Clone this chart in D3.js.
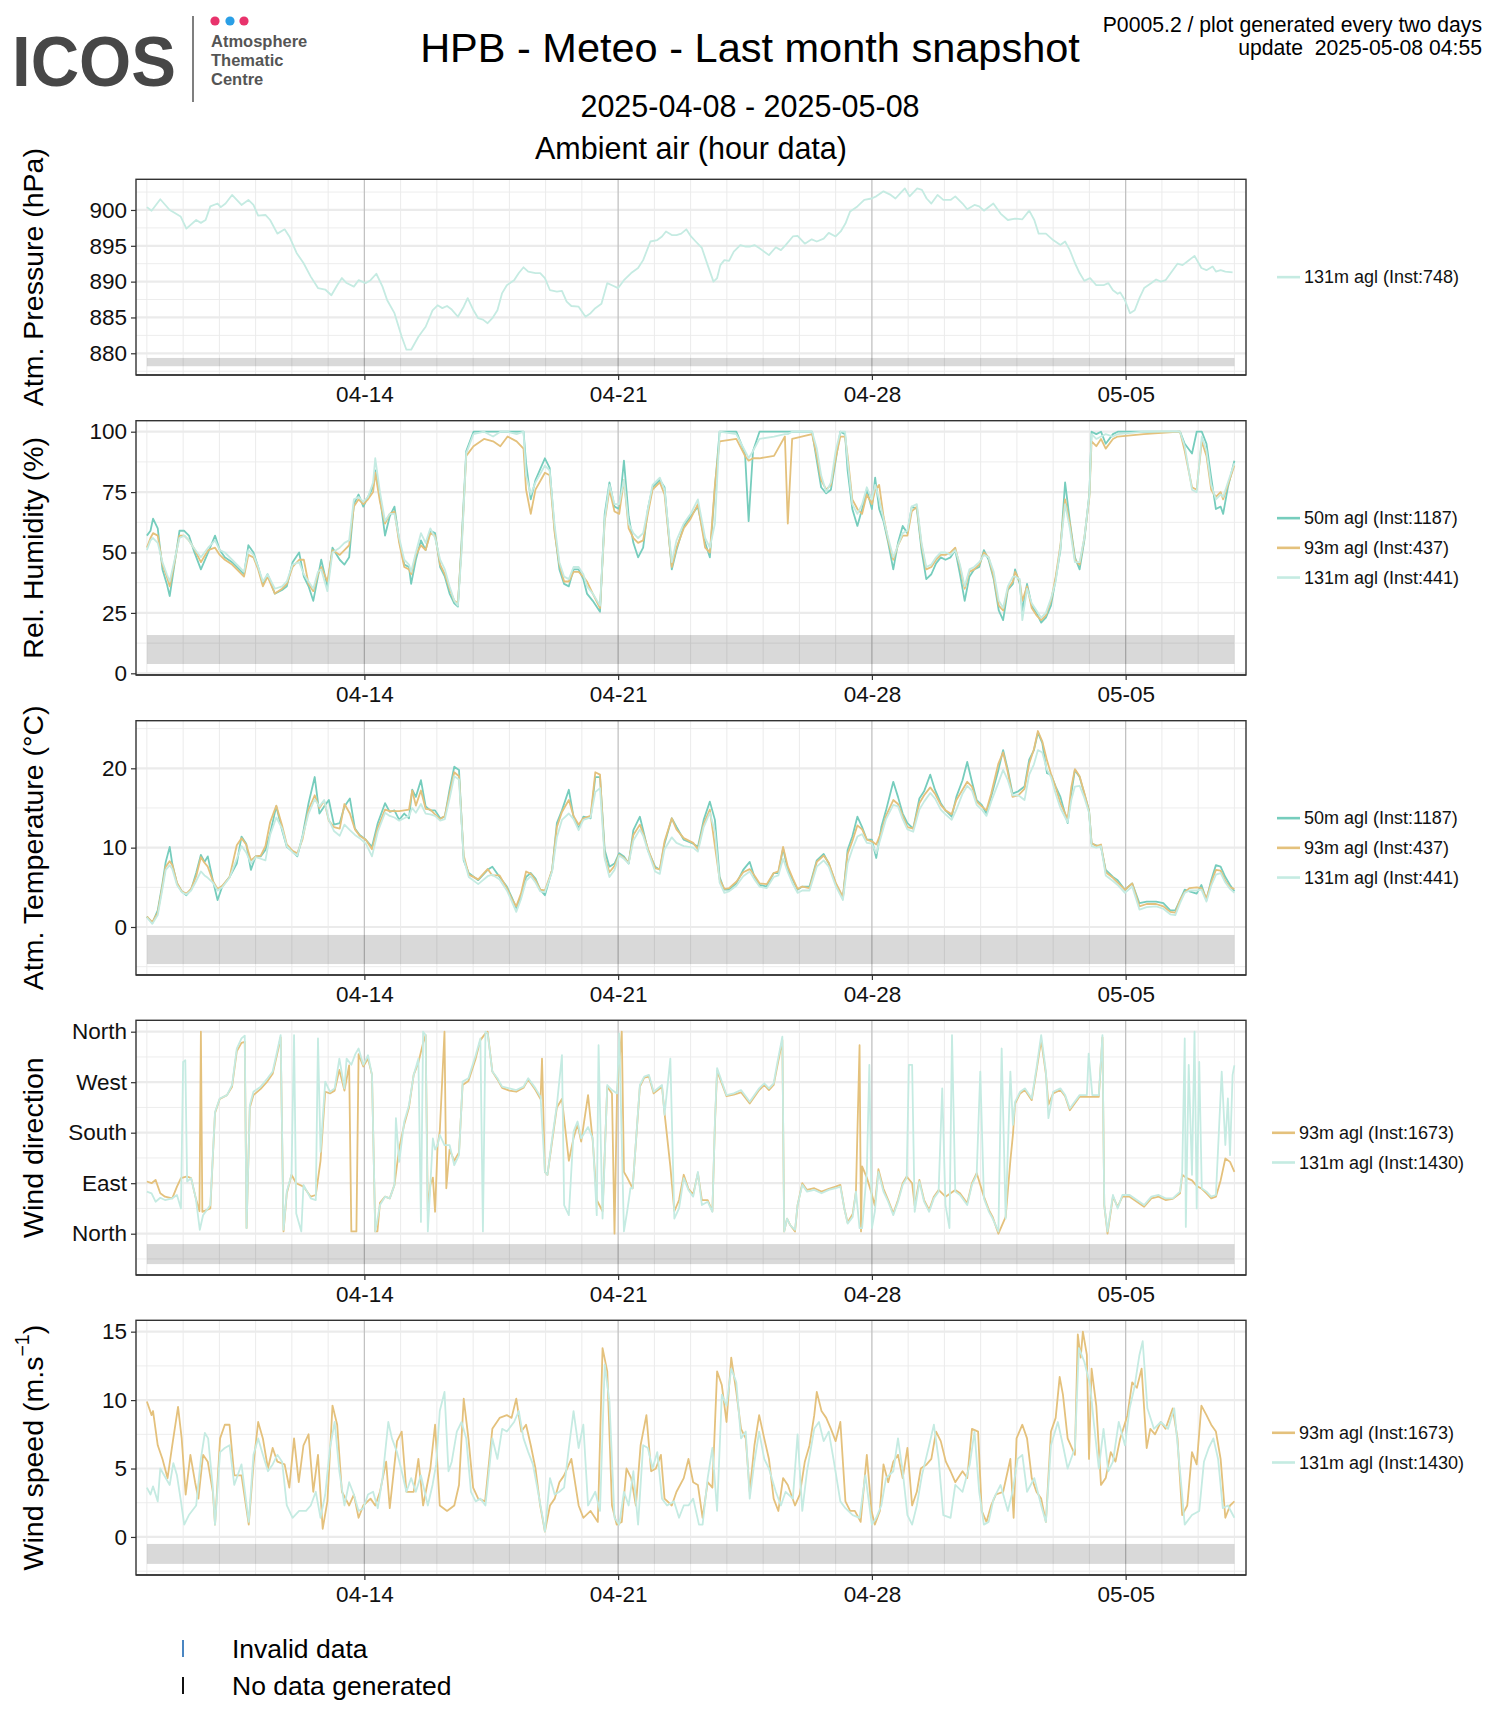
<!DOCTYPE html>
<html><head><meta charset="utf-8">
<script src="https://cdn.jsdelivr.net/npm/d3@7"></script>
<style>
body{margin:0;background:#fff}
svg text{font-family:"Liberation Sans",Arial,Helvetica,sans-serif}
</style>
</head><body>
<svg id="c" width="1500" height="1725"></svg>
<script>
// ---------------- DATA (day offsets from 2025-04-08 00:00 UTC) ----------------
const startDay = "2025-04-08";
const tickLabelsX = ["04-14","04-21","04-28","05-05"];
const windDirLabels = ["North","East","South","West","North"];

const pres131 = [[0,900.4],[0.13,899.9],[0.37,901.5],[0.63,900],[0.76,899.6],[0.93,899.1],[1.09,897.4],[1.36,898.6],[1.49,898.2],[1.62,898.6],[1.75,900.5],[1.95,900.9],[2.04,900.4],[2.17,900.9],[2.35,902.1],[2.48,901.4],[2.61,900.7],[2.8,901.4],[2.94,900.7],[3.07,899.2],[3.27,899.3],[3.4,898.6],[3.6,896.7],[3.8,897.3],[3.93,896.3],[4.13,894],[4.32,892.6],[4.52,890.7],[4.72,889.1],[4.92,888.9],[5.09,888.1],[5.25,889.5],[5.38,890.5],[5.51,889.8],[5.71,889.3],[5.84,890.2],[6.04,889.8],[6.17,890.2],[6.33,891.1],[6.5,889.3],[6.63,887.4],[6.83,885.6],[7.03,882.3],[7.16,880.5],[7.29,880.5],[7.49,882.3],[7.69,883.7],[7.88,886],[8.02,886.7],[8.15,886.3],[8.28,886.6],[8.41,886.1],[8.58,885.1],[8.74,886.5],[8.85,887.7],[9.01,886],[9.14,884.9],[9.27,884.7],[9.4,884.2],[9.53,884.9],[9.67,886],[9.8,888.4],[9.93,889.5],[10.13,890.2],[10.26,891.2],[10.39,892],[10.52,891.4],[10.72,891.2],[10.85,891.2],[10.98,890.5],[11.12,888.8],[11.31,888.6],[11.45,888.7],[11.58,887.2],[11.71,886.6],[11.91,886.5],[12.1,885.1],[12.24,885.6],[12.37,886.3],[12.54,886.9],[12.7,889.8],[12.83,889.5],[13.0,889.1],[13.16,890.2],[13.36,891.2],[13.55,891.9],[13.69,893],[13.89,895.6],[14.08,895.8],[14.21,896.3],[14.32,897],[14.48,896.5],[14.61,896.5],[14.74,896.7],[14.88,897.3],[15.01,896.3],[15.14,895.6],[15.31,894.7],[15.47,892.3],[15.63,890],[15.73,890.5],[15.82,892.3],[15.93,893],[16.06,892.9],[16.19,894.2],[16.37,895.1],[16.52,894.9],[16.63,894.9],[16.76,895.1],[16.89,894.7],[17.16,893.7],[17.35,894.8],[17.49,894.4],[17.62,895.1],[17.82,896.3],[17.95,896.4],[18.15,895.3],[18.34,895.9],[18.48,895.6],[18.67,896],[18.81,896.8],[19.0,896.3],[19.14,897],[19.27,898.1],[19.4,899.8],[19.6,900.5],[19.79,901.4],[19.99,901.6],[20.12,901.9],[20.32,902.6],[20.52,902.1],[20.65,901.6],[20.78,902.3],[20.91,903],[21.04,901.9],[21.25,903],[21.38,902.8],[21.51,901.6],[21.64,900.9],[21.81,902.1],[21.97,901.4],[22.17,901.4],[22.3,901.9],[22.5,900.9],[22.63,900.1],[22.83,900.7],[22.96,900.5],[23.09,899.9],[23.35,900.9],[23.55,899.5],[23.75,898.6],[23.95,898.8],[24.15,898.7],[24.34,899.9],[24.48,898.6],[24.6,896.7],[24.8,896.7],[25.0,895.8],[25.2,895.1],[25.33,895.6],[25.46,894.4],[25.6,892.6],[25.73,891.2],[25.86,890.1],[26.02,890.5],[26.19,889.5],[26.39,889.5],[26.52,889.8],[26.65,888.8],[26.78,888.3],[26.85,888.5],[26.98,887.4],[27.12,885.6],[27.25,886],[27.38,887.7],[27.51,889.1],[27.71,889.8],[27.84,890.3],[27.97,890],[28.1,890.2],[28.3,891.6],[28.43,892.5],[28.57,892.3],[28.7,892.8],[28.9,893.6],[29.09,891.9],[29.23,891.6],[29.4,892.1],[29.49,891.4],[29.62,891.6],[29.75,891.4],[29.95,891.3]];

const rhDays = [0,0.1,0.17,0.3,0.43,0.55,0.63,0.75,0.9,1.03,
1.16,1.29,1.49,1.69,1.88,2.01,2.15,2.35,2.55,2.68,
2.8,2.94,3.07,3.2,3.33,3.53,3.73,3.86,4.02,4.2,
4.33,4.46,4.59,4.72,4.81,4.98,5.12,5.32,5.45,5.58,
5.71,5.84,5.97,6.1,6.24,6.3,6.43,6.57,6.7,6.83,
6.96,7.1,7.23,7.29,7.42,7.56,7.69,7.82,7.95,8.09,
8.22,8.35,8.48,8.58,8.68,8.81,9.01,9.3,9.55,9.75,
9.95,10.2,10.39,10.46,10.59,10.72,10.98,11.11,11.25,11.38,
11.51,11.64,11.77,11.91,12.04,12.14,12.3,12.5,12.63,12.76,
12.9,13.03,13.16,13.29,13.42,13.55,13.69,13.82,13.95,14.15,
14.28,14.48,14.61,14.81,15.0,15.2,15.4,15.53,15.67,15.8,
16.26,16.5,16.6,16.72,16.9,17.3,17.6,17.68,17.8,18.35,
18.48,18.6,18.74,18.87,19.0,19.13,19.26,19.33,19.46,19.6,
19.73,19.86,20.0,20.09,20.2,20.32,20.45,20.59,20.72,20.85,
20.98,21.1,21.24,21.37,21.5,21.64,21.77,21.9,22.03,22.17,
22.3,22.43,22.56,22.69,22.82,22.96,23.09,23.22,23.36,23.5,
23.62,23.75,23.89,23.95,24.08,24.15,24.28,24.41,24.54,24.67,
24.8,24.94,25.07,25.2,25.33,25.46,25.6,25.73,25.86,26.0,
26.06,26.19,26.32,26.45,26.65,26.78,27.5,28.5,28.63,28.83,
28.96,29.1,29.23,29.36,29.49,29.62,29.69,29.82,30];
const rh50m = [57,59,64,60,43,37,32,44,59,59,
57,51,43,50,57,51,48,46,43,41,
53,50,44,37,41,33,34.5,36,46,50,
40,36,30,40,47,36,52,47,45,48,
70,74,69,73,77,84,73,57,65,69,
55,45,44,37,47,55,51,59,58,44,
40,33,29,27.6,54,92,100,100,100,100,
100,100,100,87,72,80,89,85,59,43,
37,36,43,43,39,33,30,25.5,66,79,
69,68,88,65,54,48,52,68,77,80,
77,43,51,61,65,69,54,48,77,100,
100,91,63,92,100,100,100,100,100,100,
88,77,74.5,76,88,100,99,84,68,61,
68,76,68,81,68,63,54,43,54,61,
58,69,68,51,39,41,45.5,48,47,48,
51,41,30,40,43,44,51,47,39,26,
22,34.5,37,43,37,26,37,28,25,21,
23,28,39,51,79,63,48,43,55,74.5,
100,99,100,95,99,100,100,100,95,91,
100,100,95,81,68,69,66,77,88];
const rh93m = [52,56,58,57,45,40,36,45,57,57,
55,52,46,51,52,49,47,45,42,40,
49,48,43,36,40,33,35,37,44,47,
47,37,34,41,44,38,51,49,51,53,
69,72,70,72,75,83,71,62,66,67,
54,44,43,41,49,53,51,58,57,45,
41,35,30,29,52,90,94,97,96,94,
98,96,93,76,66,76,83,82,58,45,
38,38,42,42,40,38,33,27,63,76,
67,66,80,60,56,54,55,66,76,79,
74,44,52,60,64,70,52,50,78,96,
97,90,88,89,89,90,98,62,97,99,
90,80,76,78,89,98,98,90,72,68,
66,74,70,76,78,65,55,47,53,57,
57,67,69,53,43,44,47,49,49,50,
52,44,35,42,43,45,50,48,40,28,
26,35,38,42,38,30,36,27,24,22,
24,30,40,53,72,62,47,45,56,73,
96,94,97,93,97,98,99,100,92,77,
76,96,90,76,73,75,72,78,86];
const rh131m = [51,55,56,54,46,41,38,46,56,57,
55,52,48,52,55,51,50,47,44,42,
51,49,44,38,41,35,36,38,45,46,
41,38,35,42,43,34,50,52,54,55,
72,73,71,73,79,89,75,63,66,66,
56,47,45,42,50,58,54,60,56,47,
43,36,30,28,50,91,99,100,98,100,
100,99,100,82,74,79,86,84,61,46,
40,39,44,44,41,36,33,28,64,78,
70,70,80,62,58,56,58,68,78,81,
76,46,55,62,66,72,56,52,62,100,
99,92,89,92,97,98,99,99,100,100,
93,82,75,79,92,100,100,88,70,66,
70,77,72,78,72,64,56,48,53,58,
59,69,70,54,44,45,48,50,50,49,
51,45,36,43,44,46,49,48,42,30,
27,36,40,40,39,22,35,29,26,23,
25,31,38,52,70,60,46,46,56,74,
99,97,98,99,98,99,100,100,94,76,
75,98,92,78,72,74,73,79,87];

const tempDays = [0,0.15,0.3,0.43,0.52,0.63,0.7,0.83,0.96,1.09,
1.22,1.36,1.49,1.59,1.68,1.82,1.95,2.08,2.28,2.48,
2.61,2.74,2.87,3.0,3.14,3.27,3.4,3.57,3.73,3.86,
4.02,4.15,4.29,4.46,4.63,4.76,4.89,5.02,5.16,5.32,
5.45,5.6,5.74,5.87,6.04,6.21,6.37,6.57,6.7,6.83,
6.96,7.1,7.23,7.32,7.42,7.56,7.69,7.82,7.95,8.09,
8.22,8.35,8.48,8.61,8.74,8.88,9.14,9.4,9.53,9.73,
9.93,10.06,10.19,10.32,10.46,10.59,10.72,10.85,10.98,11.18,
11.31,11.45,11.64,11.77,11.91,12.04,12.24,12.37,12.5,12.63,
12.76,12.9,13.03,13.16,13.29,13.42,13.6,13.69,13.82,14.02,
14.15,14.28,14.48,14.61,14.81,15.07,15.2,15.36,15.53,15.67,
15.8,15.93,16.06,16.26,16.45,16.63,16.76,16.9,17.1,17.29,
17.42,17.55,17.68,17.82,17.95,18.08,18.28,18.48,18.67,18.81,
19.0,19.2,19.33,19.46,19.6,19.73,19.86,20.0,20.12,20.26,
20.39,20.59,20.72,20.85,20.98,21.14,21.31,21.44,21.61,21.74,
21.9,22.03,22.2,22.33,22.5,22.63,22.76,22.89,23.03,23.16,
23.29,23.49,23.62,23.75,23.88,24.04,24.21,24.34,24.47,24.58,
24.7,24.83,24.94,25.07,25.2,25.4,25.5,25.6,25.73,25.86,
25.99,26.06,26.19,26.32,26.45,26.65,26.78,26.98,27.18,27.38,
27.58,27.84,28.04,28.23,28.37,28.5,28.63,28.76,28.96,29.09,
29.23,29.36,29.49,29.62,29.75,29.88,30];
const temp50m = [1.3,0.5,2.1,5.5,8.2,10.1,8,5.5,4.5,4,
4.7,6.8,9.1,8.2,8.9,5.9,3.4,5.1,6.3,8,
11.4,10.5,7.2,8.9,8.9,9.7,11.8,15.2,12.2,10.1,
9.5,8.9,11.4,15.6,18.9,14.3,15.2,16,12.9,13.1,
15.2,16.2,12.4,11.6,11,10.1,13.1,15.6,14.5,14.7,
13.5,14.3,13.7,17.3,16.4,18.5,15.2,14.7,14.7,13.7,
13.9,17.3,20.2,19.8,8.4,6.8,5.9,7.2,7.6,6.3,
5.1,3.8,2.4,3.8,6.3,6.8,6.1,4.7,4,7.2,
13.1,14.7,17.3,13.9,12.4,13.9,13.7,18.9,18.9,9.7,
7.6,8,9.3,8.9,8,12.2,13.9,12.2,9.7,7.6,
7.2,10.5,13.7,12.6,11,10.5,10.1,13.5,15.8,13.5,
6.3,4.7,4.7,5.5,7.2,8.2,6.3,5.3,5.1,6.8,
6.8,9.9,7.2,5.9,4.7,5.1,5.1,8.4,9.2,8,
5.5,3.6,9.7,11.4,13.9,12.6,11,11,8.7,12.6,
14.7,18.3,16.4,14.3,13.1,12.4,16.2,17.1,19.2,17.3,
15.6,14.7,13.9,16.4,18.5,20.8,18.3,16,15.4,14.3,
16.4,19.8,22.3,19.8,16.8,17.1,17.7,21.1,22.3,24.5,
23.2,19.4,19.2,17.7,16.4,13.1,16.8,19.8,18.9,16.8,
14.7,10.5,10.3,10.1,7.2,6.3,5.9,4.7,5.5,3,
3.2,3.2,3,2.1,2.1,3.4,4.7,4.5,4.2,5.3,
3.4,5.9,7.8,7.6,6.3,5.3,4.5];
const temp93m = [1.3,0.6,1.8,5.2,7.6,8.3,7.8,5.6,4.5,4.2,
4.8,6.4,8.8,8.1,7.6,5.8,4.8,5.2,6.3,10.3,
11.2,10.4,8.4,8.9,9.0,10.2,13.2,15.3,12.8,10.4,
9.6,9.3,11.0,14.8,16.6,15.0,15.9,13.4,12.6,12.4,
15.5,14.3,12.3,11.5,11.0,9.8,12.5,14.8,14.6,14.6,
14.6,14.7,14.8,17.2,15.3,17.2,14.9,14.8,14.2,13.6,
14.0,16.8,19.5,19.0,9.0,6.6,6.0,7.3,6.5,6.5,
4.9,3.6,2.6,4.2,7.0,6.7,5.9,4.7,4.6,7.2,
12.6,14.5,16.0,14.0,12.9,13.7,14.0,19.5,19.2,8.8,
6.9,7.7,9.1,8.7,8.1,11.6,12.9,11.8,9.9,7.4,
7.3,10.8,13.7,12.3,11.2,10.6,9.8,13.0,14.8,10.2,
6.0,4.8,4.9,5.7,6.9,7.3,6.5,5.5,5.4,6.8,
7.0,10.1,7.6,6.1,4.8,5.1,4.9,8.2,9.0,8.1,
5.6,3.8,9.2,10.8,12.8,12.3,11.0,10.8,10.4,12.0,
14.0,16.0,15.5,14.0,12.6,12.4,15.6,16.6,17.6,16.8,
15.4,14.7,14.2,16.0,17.3,18.3,17.7,15.8,15.2,14.7,
16.8,20.6,22.0,19.5,16.4,16.6,17.4,20.6,22.4,24.7,
23.4,21.0,19.3,17.6,15.6,13.6,17.6,19.9,19.0,16.9,
14.6,10.6,10.2,10.4,6.9,6.2,5.6,4.7,5.5,2.6,
2.9,2.9,2.6,1.9,1.8,3.4,4.4,4.9,5.0,4.9,
3.6,5.6,7.2,7.1,5.8,5.0,4.8];
const temp131m = [1.2,0.4,1.5,4.8,7.2,7.8,7.3,5.3,4.4,4.1,
4.6,5.8,7.0,6.5,6.2,5.6,4.6,5.0,6.2,8.6,
10.2,9.4,8.0,8.8,8.6,8.4,11.6,13.8,12.4,10.2,
9.4,9.0,11.3,14.3,16.1,15.2,16,13.5,12.1,11.5,
12.9,12.2,11.6,11.2,10.5,8.9,12.0,14.4,14.0,13.8,
13.4,13.7,14.0,15.0,14.4,15.5,14.3,14.2,14.0,13.4,
13.6,16.2,19.0,18.6,8.6,6.3,5.4,6.4,6.6,6.0,
4.6,3.3,1.9,3.5,5.8,6.4,5.6,4.5,4.4,7.0,
11.3,13.5,14.3,13.6,12.2,13.5,13.8,17.0,17.5,8.6,
6.3,7.2,9.0,8.6,8.0,10.9,12.3,11.5,9.6,7.0,
6.7,9.8,11.3,10.6,10.2,10.0,9.5,12.6,14.4,12.0,
5.6,4.3,4.5,5.2,6.4,7.0,6.0,5.1,4.9,6.3,
6.5,8.6,6.9,5.4,4.3,4.6,4.6,7.6,8.4,7.6,
5.2,3.4,8.0,9.8,11.4,11.7,10.6,10.5,9.3,11.5,
13.6,15.4,15.2,13.6,12.3,12.0,14.8,15.8,16.9,16.2,
14.8,14.2,13.5,14.8,16.8,17.8,17.2,15.4,14.8,14.0,
15.8,18.2,19.8,18.5,16.6,16.6,16.0,19.2,20.5,22.3,
22.0,19.8,18.9,16.8,15.0,13.2,16.0,17.7,17.8,16.3,
14.4,10.2,10.0,10.2,6.5,5.8,5.3,4.3,5.1,2.2,
2.5,2.6,2.3,1.6,1.5,3.0,4.3,4.6,4.6,4.7,
3.2,5.2,6.6,6.8,5.6,4.8,4.3];

const wdir93 = [[0,93],[0.13,90],[0.24,96],[0.37,72],[0.5,66],[0.7,63],[0.83,84],[0.94,99],[1.11,102],[1.22,99],[1.35,63],[1.45,40],[1.49,360],[1.53,39],[1.75,45],[1.88,215],[2.01,240],[2.21,247],[2.35,262],[2.48,325],[2.61,340],[2.7,342],[2.75,10],[2.84,225],[2.94,247],[3.14,258],[3.33,272],[3.47,285],[3.6,322],[3.69,350],[3.77,4],[3.86,72],[3.99,105],[4.12,90],[4.32,84],[4.52,66],[4.66,69],[4.79,130],[4.92,253],[5.05,250],[5.18,255],[5.31,292],[5.45,255],[5.58,300],[5.64,4],[5.78,4],[5.84,320],[5.97,298],[6.1,312],[6.21,283],[6.3,4],[6.36,4],[6.43,55],[6.57,66],[6.7,63],[6.83,87],[6.96,152],[7.1,195],[7.23,225],[7.36,283],[7.49,305],[7.62,340],[7.69,354],[7.75,40],[7.82,87],[7.89,100],[7.95,39],[8.02,158],[8.08,182],[8.21,360],[8.26,81],[8.35,150],[8.48,130],[8.61,145],[8.71,265],[8.87,272],[9.07,312],[9.2,345],[9.34,357],[9.4,360],[9.53,289],[9.67,275],[9.8,260],[10.0,255],[10.19,253],[10.39,260],[10.52,275],[10.72,256],[10.86,240],[10.9,312],[10.98,110],[11.05,105],[11.18,165],[11.31,225],[11.45,240],[11.64,130],[11.77,170],[11.88,195],[11.98,164],[12.17,247],[12.3,165],[12.41,60],[12.57,40],[12.7,262],[12.83,250],[12.9,0],[12.97,250],[13.1,360],[13.16,110],[13.25,100],[13.4,81],[13.6,262],[13.72,278],[13.85,280],[13.98,250],[14.21,262],[14.28,215],[14.44,120],[14.55,40],[14.68,60],[14.81,105],[14.94,80],[15.07,70],[15.2,108],[15.31,60],[15.47,60],[15.6,40],[15.67,195],[15.73,290],[15.86,268],[15.99,245],[16.19,248],[16.39,252],[16.63,232],[16.76,244],[16.89,256],[17.03,265],[17.16,256],[17.29,265],[17.38,295],[17.45,318],[17.53,345],[17.58,4],[17.66,27],[17.75,15],[17.88,4],[17.95,51],[18.08,90],[18.21,78],[18.41,81],[18.61,75],[18.81,80],[19.0,84],[19.13,87],[19.24,45],[19.33,20],[19.47,35],[19.56,75],[19.66,336],[19.7,4],[19.73,120],[19.86,100],[20.0,70],[20.08,50],[20.18,115],[20.32,80],[20.45,60],[20.59,36],[20.72,60],[20.85,90],[20.96,102],[21.11,90],[21.18,50],[21.31,96],[21.44,60],[21.58,42],[21.71,66],[21.84,78],[22.03,66],[22.3,78],[22.43,72],[22.63,54],[22.76,90],[22.89,108],[23.09,66],[23.23,42],[23.33,30],[23.49,0],[23.69,30],[23.82,130],[23.89,176],[23.95,232],[24.09,250],[24.22,256],[24.41,238],[24.54,290],[24.67,345],[24.8,285],[24.87,230],[25.0,250],[25.2,256],[25.33,245],[25.46,220],[25.73,244],[25.93,244],[26.08,244],[26.26,244],[26.36,350],[26.41,51],[26.5,0],[26.65,66],[26.78,48],[26.91,66],[27.11,66],[27.31,57],[27.51,48],[27.71,63],[27.91,66],[28.1,60],[28.3,62],[28.5,72],[28.56,105],[28.66,100],[28.83,95],[28.96,85],[29.1,80],[29.23,72],[29.36,63],[29.49,66],[29.62,95],[29.75,134],[29.88,128],[30,110]];

const wdir131 = [[0,75],[0.13,72],[0.24,57],[0.37,64],[0.5,60],[0.7,63],[0.83,69],[0.94,45],[1.0,306],[1.06,309],[1.11,93],[1.22,99],[1.35,63],[1.46,7],[1.55,33],[1.75,51],[1.88,217],[2.01,241],[2.21,247],[2.35,265],[2.48,330],[2.61,348],[2.7,353],[2.75,10],[2.84,229],[2.94,253],[3.14,262],[3.33,277],[3.47,289],[3.6,327],[3.69,354],[3.77,7],[3.86,75],[3.99,105],[4.06,354],[4.12,36],[4.26,4],[4.32,87],[4.52,63],[4.66,60],[4.72,348],[4.79,146],[4.92,271],[5.05,253],[5.18,259],[5.31,312],[5.45,259],[5.51,312],[5.64,301],[5.75,320],[5.84,330],[5.97,301],[6.1,318],[6.21,283],[6.3,4],[6.43,51],[6.57,66],[6.7,63],[6.83,87],[6.87,206],[6.96,128],[7.1,200],[7.23,229],[7.36,283],[7.49,312],[7.56,21],[7.62,360],[7.69,354],[7.75,4],[7.82,87],[7.89,170],[7.95,150],[8.02,158],[8.08,176],[8.21,158],[8.35,158],[8.48,122],[8.61,140],[8.71,271],[8.87,277],[9.07,318],[9.2,348],[9.27,4],[9.34,360],[9.4,357],[9.53,289],[9.67,277],[9.8,262],[10.0,259],[10.19,256],[10.39,262],[10.52,277],[10.72,259],[10.86,244],[10.98,110],[11.05,105],[11.18,170],[11.31,229],[11.45,318],[11.51,51],[11.64,33],[11.77,182],[11.88,200],[11.98,170],[12.17,190],[12.3,170],[12.41,33],[12.46,336],[12.57,27],[12.7,265],[12.83,256],[12.97,250],[13.03,357],[13.16,4],[13.25,40],[13.34,81],[13.4,81],[13.6,265],[13.72,280],[13.85,283],[13.98,253],[14.21,265],[14.28,212],[14.44,312],[14.55,27],[14.68,45],[14.81,99],[14.94,78],[15.07,66],[15.2,110],[15.31,51],[15.47,57],[15.6,39],[15.67,200],[15.73,295],[15.86,271],[15.99,247],[16.19,250],[16.39,256],[16.63,235],[16.76,247],[16.89,259],[17.03,268],[17.16,259],[17.29,268],[17.38,301],[17.45,324],[17.53,351],[17.58,4],[17.66,27],[17.75,15],[17.88,7],[17.95,51],[18.08,87],[18.21,75],[18.41,78],[18.61,72],[18.81,78],[19.0,81],[19.13,84],[19.24,45],[19.33,18],[19.47,30],[19.56,75],[19.66,10],[19.73,10],[19.86,110],[19.93,301],[20.0,10],[20.08,39],[20.18,110],[20.32,75],[20.45,57],[20.59,33],[20.72,57],[20.85,87],[20.96,99],[21.02,301],[21.11,301],[21.18,39],[21.31,93],[21.44,57],[21.58,39],[21.71,63],[21.84,75],[21.94,259],[22.03,51],[22.14,10],[22.21,354],[22.3,75],[22.43,69],[22.63,51],[22.76,87],[22.89,105],[22.99,289],[23.09,63],[23.23,39],[23.33,27],[23.49,4],[23.58,330],[23.69,27],[23.82,289],[23.89,194],[23.95,235],[24.09,253],[24.22,259],[24.41,241],[24.54,295],[24.67,354],[24.8,289],[24.87,206],[25.0,253],[25.2,259],[25.33,247],[25.46,223],[25.73,247],[25.93,247],[25.98,321],[26.08,247],[26.26,247],[26.36,354],[26.41,51],[26.5,4],[26.65,69],[26.78,45],[26.91,69],[27.11,69],[27.31,60],[27.51,51],[27.71,66],[27.91,69],[28.1,63],[28.3,63],[28.5,75],[28.56,110],[28.63,348],[28.66,12],[28.74,301],[28.83,105],[28.9,360],[28.96,45],[29.03,306],[29.1,81],[29.23,75],[29.36,66],[29.49,69],[29.65,289],[29.75,158],[29.82,241],[29.88,140],[29.95,283],[30,300]];

const spd93 = [[0,9.9],[0.13,8.9],[0.17,9.2],[0.3,6.7],[0.43,5.7],[0.57,4.3],[0.7,6.7],[0.86,9.5],[0.96,7.2],[1.07,3.1],[1.2,6],[1.33,4],[1.42,2.8],[1.55,6],[1.68,5.5],[1.82,3.3],[1.88,0.9],[2.02,7.2],[2.15,8.2],[2.28,8.2],[2.41,4.5],[2.61,4.5],[2.81,0.9],[2.94,5.3],[3.07,8.4],[3.2,7.2],[3.34,5],[3.47,6.5],[3.6,5.5],[3.8,5.3],[3.93,3.6],[4.06,7.2],[4.19,4],[4.32,6.7],[4.46,7.5],[4.59,3.3],[4.72,6],[4.85,0.6],[4.98,2.6],[5.12,9.6],[5.25,8.2],[5.38,3.3],[5.58,2.3],[5.71,3.1],[5.84,1.4],[5.97,2.3],[6.17,2.8],[6.3,2.3],[6.43,3.3],[6.6,5.5],[6.7,2.1],[6.9,7],[7.03,7.7],[7.16,3.3],[7.36,3.3],[7.49,5.7],[7.62,2.3],[7.82,5],[7.95,8.2],[8.08,2.3],[8.28,1.9],[8.48,2.3],[8.61,3.8],[8.74,10.1],[8.87,7.2],[9.0,3.6],[9.14,2.8],[9.33,2.6],[9.53,7.9],[9.73,8.7],[9.93,8.9],[10.06,8.7],[10.19,10.1],[10.33,7.7],[10.46,8.2],[10.59,6.7],[10.72,5],[10.85,2.3],[10.98,0.4],[11.12,2.3],[11.25,2.8],[11.38,4],[11.51,4.5],[11.71,5.7],[11.91,2.3],[12.04,1.4],[12.24,1.9],[12.44,1.1],[12.57,13.8],[12.7,12.1],[12.83,2.3],[12.96,0.9],[13.1,1.1],[13.23,5],[13.36,4.3],[13.49,2.3],[13.62,6.7],[13.78,8.9],[13.91,4.8],[14.04,5],[14.18,6],[14.28,2.8],[14.48,2.3],[14.61,3.3],[14.81,4.3],[14.94,5.7],[15.07,4],[15.2,3.8],[15.33,1.4],[15.47,4],[15.6,3.6],[15.73,12.1],[15.86,11.1],[15.99,8.4],[16.12,13.1],[16.26,10.6],[16.39,7.9],[16.52,7.2],[16.63,3.3],[16.76,6.7],[16.89,8.9],[17.03,7.2],[17.16,5.7],[17.29,2.8],[17.42,1.9],[17.55,4.3],[17.68,3.8],[17.88,2.3],[18.01,3.1],[18.15,5.5],[18.28,6.7],[18.41,8.9],[18.48,10.6],[18.61,9.2],[18.74,8.7],[18.87,7.9],[19.0,7],[19.13,8.4],[19.27,2.6],[19.4,1.9],[19.53,1.9],[19.69,1.1],[19.86,6],[19.99,1.9],[20.08,0.9],[20.22,1.9],[20.32,5.3],[20.45,4],[20.59,5.5],[20.72,6],[20.85,4.3],[20.98,6.5],[21.11,2.3],[21.24,3.3],[21.35,5],[21.51,5.3],[21.64,5.7],[21.77,7.7],[21.9,7],[22.04,5.5],[22.17,4.8],[22.3,4],[22.5,4.8],[22.63,4.3],[22.76,7.9],[22.93,7.7],[23.03,1.9],[23.16,1.1],[23.29,2.3],[23.42,3.1],[23.62,3.3],[23.82,5.7],[23.91,1.4],[23.99,7.2],[24.15,8.2],[24.28,7.2],[24.41,4.3],[24.54,3.3],[24.67,2.8],[24.8,1.1],[24.94,7.7],[25.07,8.7],[25.18,11.7],[25.27,10.4],[25.4,7.2],[25.6,6],[25.68,14.8],[25.76,13.1],[25.82,15],[25.93,13.3],[25.99,5.7],[26.06,12.3],[26.19,9.6],[26.32,3.8],[26.45,4.3],[26.59,6.2],[26.72,5.5],[26.85,7.2],[27.05,8.9],[27.18,11.3],[27.31,10.9],[27.44,12.3],[27.58,6.5],[27.68,7.9],[27.81,7.5],[27.97,8.4],[28.1,7.9],[28.3,9.4],[28.43,7.2],[28.56,1.6],[28.7,2.3],[28.83,6.2],[28.96,5.3],[29.09,9.6],[29.23,8.9],[29.36,8.2],[29.49,7.7],[29.62,5.7],[29.75,1.4],[29.88,2.3],[30,2.6]];

const spd131 = [[0,3.6],[0.1,3.1],[0.17,3.7],[0.3,2.6],[0.37,5],[0.5,4.4],[0.63,3.8],[0.73,5.4],[0.83,4.5],[0.94,2.6],[1.03,0.9],[1.16,1.6],[1.36,2.3],[1.49,5.7],[1.6,7.6],[1.69,7.2],[1.82,3.6],[1.88,0.9],[2.02,6.2],[2.15,6.5],[2.28,6.7],[2.41,3.8],[2.61,5.3],[2.81,1.1],[2.94,6],[3.07,7.2],[3.2,6],[3.34,4.8],[3.47,5.3],[3.6,6],[3.73,5.5],[3.86,2.3],[4.02,1.4],[4.2,1.9],[4.39,1.9],[4.52,2.3],[4.66,3.3],[4.79,1.4],[4.92,3.1],[5.05,6.5],[5.18,8.4],[5.31,4.8],[5.45,2.3],[5.58,4],[5.71,3.1],[5.84,1.9],[5.97,2.1],[6.1,3.1],[6.24,3.3],[6.37,2.1],[6.5,4.3],[6.66,8.4],[6.76,7.2],[6.9,6.2],[7.03,4.8],[7.16,3.3],[7.29,4.3],[7.42,3.3],[7.56,4.5],[7.75,2.3],[7.88,3.8],[7.98,5.3],[8.08,9.2],[8.21,10.6],[8.32,4.8],[8.41,5.5],[8.55,7.7],[8.68,8.4],[8.81,7.2],[8.94,3.3],[9.07,2.6],[9.2,2.8],[9.34,2.3],[9.53,7.2],[9.67,5.7],[9.8,7.9],[9.93,7.7],[10.13,8.4],[10.26,9.2],[10.39,7.2],[10.52,6.2],[10.65,5.3],[10.79,3.3],[10.92,1.4],[10.98,0.4],[11.12,4.3],[11.25,3.1],[11.38,3.3],[11.51,3.6],[11.64,6.5],[11.77,9.2],[11.91,6.5],[12.04,8.2],[12.17,2.3],[12.37,3.3],[12.5,1.9],[12.63,12.6],[12.76,9.9],[12.9,1.4],[13.03,0.9],[13.16,3.3],[13.29,2.3],[13.42,4.8],[13.55,0.9],[13.69,6.7],[13.82,6.5],[13.95,5],[14.08,6.2],[14.21,2.8],[14.35,2.3],[14.54,2.6],[14.68,1.4],[14.81,2.3],[14.94,2.3],[15.07,2.8],[15.23,0.9],[15.33,0.9],[15.47,4.3],[15.6,6.5],[15.73,1.9],[15.86,10.4],[15.99,9.6],[16.12,12.3],[16.26,11.3],[16.39,7.2],[16.52,7.7],[16.63,2.8],[16.76,5.5],[16.89,7.7],[17.03,5.7],[17.16,5],[17.35,3.3],[17.49,2.3],[17.62,3.3],[17.82,2.8],[17.95,7.5],[18.08,1.9],[18.21,4.8],[18.41,7.9],[18.54,8.4],[18.67,7],[18.81,7.7],[18.94,5.7],[19.13,2.6],[19.27,2.1],[19.47,1.6],[19.66,1.4],[19.82,4.5],[20.0,0.9],[20.12,1.4],[20.26,2.3],[20.39,4.3],[20.59,4.8],[20.72,7.2],[20.85,4.8],[20.98,1.6],[21.11,0.9],[21.24,2.3],[21.38,4.5],[21.58,6.7],[21.71,8.2],[21.84,5.7],[21.97,1.6],[22.17,1.4],[22.3,3.8],[22.5,3.3],[22.7,5.3],[22.83,7.7],[22.96,3.3],[23.09,0.9],[23.22,1.1],[23.36,2.8],[23.55,3.8],[23.75,1.9],[23.88,3.3],[24.02,5.7],[24.15,6],[24.28,3.3],[24.48,4.3],[24.67,2.3],[24.8,1.1],[24.94,6.7],[25.13,8.4],[25.27,6.7],[25.4,5],[25.6,6.5],[25.71,13.8],[25.86,12.8],[26.02,11.1],[26.12,8.4],[26.26,5],[26.39,7.9],[26.52,4.8],[26.65,5.5],[26.81,8.4],[26.98,6.7],[27.11,9.4],[27.24,10.9],[27.38,13.3],[27.47,14.3],[27.6,9.4],[27.78,7.9],[27.97,8.4],[28.17,7.9],[28.34,9.4],[28.5,4.8],[28.63,0.9],[28.83,1.6],[29.03,1.9],[29.16,5.5],[29.29,6.5],[29.42,7.2],[29.55,5.7],[29.68,2.1],[29.82,2.3],[30,1.4]];

// ---------------- DRAWING ----------------
const svg = d3.select("#c");
const t0 = Date.parse(startDay + "T00:00:00Z");
const toDate = d => new Date(t0 + d * 864e5);
const zip = (days, vals) => d3.zip(days, vals);

const C50 = "#76cdbd", C93 = "#e4c17c", C131 = "#c5ebe2";
const X0 = 136, X1 = 1246;
const x = d3.scaleUtc().domain([toDate(-0.30), toDate(30.32)]).range([X0, X1]);
const FONT = '"Liberation Sans",Arial,Helvetica,sans-serif';

const panels = [
  {title: "Atm. Pressure (hPa)", top: 179.3, bottom: 375, domain: [876.97, 904.28],
   ticks: [880,885,890,895,900], minor: [877.5,882.5,887.5,892.5,897.5,902.5], band: [878.19, 879.35],
   series: [["131m agl (Inst:748)", C131, pres131]], legX: 1277},
  {title: "Rel. Humidity (%)", top: 420.7, bottom: 675, domain: [-0.7, 104.55],
   ticks: [0,25,50,75,100], minor: [12.5,37.5,62.5,87.5], band: [3.85, 15.85],
   series: [["50m agl (Inst:1187)", C50, zip(rhDays, rh50m)], ["93m agl (Inst:437)", C93, zip(rhDays, rh93m)], ["131m agl (Inst:441)", C131, zip(rhDays, rh131m)]], legX: 1277},
  {title: "Atm. Temperature (°C)", top: 720.7, bottom: 975, domain: [-6.05, 26.0],
   ticks: [0,10,20], minor: [-5,5,15,25], band: [-4.67, -1.0],
   series: [["50m agl (Inst:1187)", C50, zip(tempDays, temp50m)], ["93m agl (Inst:437)", C93, zip(tempDays, temp93m)], ["131m agl (Inst:441)", C131, zip(tempDays, temp131m)]], legX: 1277},
  {title: "Wind direction", top: 1020.3, bottom: 1275, domain: [-73.6, 380.3],
   ticks: [0,90,180,270,360], tickFmt: (d, i) => windDirLabels[i], minor: [-45,45,135,225,315], band: [-54.2, -18.5],
   series: [["93m agl (Inst:1673)", C93, wdir93], ["131m agl (Inst:1430)", C131, wdir131]], legX: 1272},
  {title: "Wind speed", sup: true, top: 1320.3, bottom: 1575, domain: [-2.78, 15.83],
   ticks: [0,5,10,15], minor: [-2.5,2.5,7.5,12.5], band: [-1.97, -0.51],
   series: [["93m agl (Inst:1673)", C93, spd93], ["131m agl (Inst:1430)", C131, spd131]], legX: 1272}
];

const days = d3.utcDay.range(toDate(0), toDate(30.01));
const mondays = d3.utcMonday.range(toDate(0), toDate(30.01));
const defs = svg.append("defs");

panels.forEach((p, pi) => {
  const y = d3.scaleLinear().domain(p.domain).range([p.bottom, p.top]);
  const g = svg.append("g");
  const H = p.bottom - p.top;
  g.append("rect").attr("x", X0).attr("y", p.top).attr("width", X1 - X0).attr("height", H).attr("fill", "#fff");
  g.selectAll(".hmin").data(p.minor).join("line")
    .attr("x1", X0).attr("x2", X1).attr("y1", d => y(d)).attr("y2", d => y(d))
    .attr("stroke", "#ededed").attr("stroke-width", 1);
  g.selectAll(".vmin").data(days.filter(d => d.getUTCDay() !== 1)).join("line")
    .attr("x1", d => x(d)).attr("x2", d => x(d)).attr("y1", p.top).attr("y2", p.bottom)
    .attr("stroke", "#ebebeb").attr("stroke-width", 1);
  g.selectAll(".hmaj").data(p.ticks).join("line")
    .attr("x1", X0).attr("x2", X1).attr("y1", d => y(d)).attr("y2", d => y(d))
    .attr("stroke", "#ebebeb").attr("stroke-width", 2.2);
  g.selectAll(".vmaj").data(mondays).join("line")
    .attr("x1", d => x(d)).attr("x2", d => x(d)).attr("y1", p.top).attr("y2", p.bottom)
    .attr("stroke", "#c2c2c2").attr("stroke-width", 1.3);
  g.append("rect").attr("x", x(toDate(0))).attr("width", x(toDate(30)) - x(toDate(0)))
    .attr("y", y(p.band[1])).attr("height", y(p.band[0]) - y(p.band[1]))
    .attr("fill", "#000").attr("fill-opacity", 0.15);
  const cid = "clip" + pi;
  defs.append("clipPath").attr("id", cid).append("rect")
    .attr("x", X0).attr("y", p.top).attr("width", X1 - X0).attr("height", H);
  const line = d3.line().x(d => x(toDate(d[0]))).y(d => y(d[1]));
  p.series.forEach(s => {
    g.append("path").attr("d", line(s[2])).attr("fill", "none")
      .attr("stroke", s[1]).attr("stroke-width", 1.8).attr("stroke-linejoin", "round")
      .attr("clip-path", `url(#${cid})`);
  });
  g.append("rect").attr("x", X0).attr("y", p.top).attr("width", X1 - X0).attr("height", H)
    .attr("fill", "none").attr("stroke", "#333").attr("stroke-width", 1.4);
  g.append("line").attr("x1", X0).attr("x2", X1).attr("y1", p.bottom).attr("y2", p.bottom)
    .attr("stroke", "#333").attr("stroke-width", 1.6);
  const ya = d3.axisLeft(y).tickValues(p.ticks).tickSize(5).tickPadding(4);
  if (p.tickFmt) ya.tickFormat(p.tickFmt); else ya.tickFormat(d3.format("d"));
  const yg = g.append("g").attr("transform", `translate(${X0},0)`).call(ya);
  yg.select(".domain").remove();
  yg.selectAll(".tick line").attr("stroke", "#333").attr("stroke-width", 1.2);
  yg.selectAll(".tick text").attr("font-size", 22.5).attr("fill", "#111").attr("font-family", FONT);
  const xa = d3.axisBottom(x).tickValues(mondays).tickSize(5).tickPadding(6)
    .tickFormat((d, i) => tickLabelsX[i]);
  const xg = g.append("g").attr("transform", `translate(0,${p.bottom})`).call(xa);
  xg.select(".domain").remove();
  xg.selectAll(".tick line").attr("stroke", "#333").attr("stroke-width", 1.2);
  xg.selectAll(".tick text").attr("font-size", 22.5).attr("fill", "#111").attr("font-family", FONT);
  const cy = (p.top + p.bottom) / 2;
  const tt = g.append("text").attr("transform", `translate(33,${cy}) rotate(-90)`)
    .attr("text-anchor", "middle").attr("dominant-baseline", "central")
    .attr("font-size", 28.5).attr("fill", "#000");
  if (p.sup) {
    tt.append("tspan").text("Wind speed (m.s");
    tt.append("tspan").attr("dy", -11).attr("font-size", 19.5).text("−1");
    tt.append("tspan").attr("dy", 11).text(")");
  } else tt.text(p.title);
  const n = p.series.length, sp = 29.7;
  p.series.forEach((s, i) => {
    const ly = cy + (i - (n - 1) / 2) * sp;
    g.append("line").attr("x1", p.legX).attr("x2", p.legX + 23).attr("y1", ly).attr("y2", ly)
      .attr("stroke", s[1]).attr("stroke-width", 2.6);
    g.append("text").attr("x", p.legX + 27).attr("y", ly).attr("dominant-baseline", "central")
      .attr("font-size", 18).attr("fill", "#111").text(s[0]);
  });
});

// ---------------- HEADER ----------------
svg.append("text").attr("x", 750).attr("y", 62).attr("text-anchor", "middle")
  .attr("font-size", 41.5).attr("fill", "#000").text("HPB - Meteo - Last month snapshot");
svg.append("text").attr("x", 750).attr("y", 117).attr("text-anchor", "middle")
  .attr("font-size", 30.5).attr("fill", "#000").text("2025-04-08 - 2025-05-08");
svg.append("text").attr("x", 691).attr("y", 159).attr("text-anchor", "middle")
  .attr("font-size", 30.5).attr("fill", "#000").text("Ambient air (hour data)");
svg.append("text").attr("x", 1482).attr("y", 32).attr("text-anchor", "end")
  .attr("font-size", 21.2).attr("fill", "#000").text("P0005.2 / plot generated every two days");
svg.append("text").attr("x", 1482).attr("y", 55).attr("text-anchor", "end").style("white-space", "pre")
  .attr("font-size", 21.2).attr("fill", "#000").text("update  2025-05-08 04:55");

svg.append("text").attr("x", 12).attr("y", 86).attr("font-size", 70).attr("font-weight", "bold")
  .attr("fill", "#474747").attr("textLength", 164).attr("lengthAdjust", "spacingAndGlyphs").text("ICOS");
svg.append("line").attr("x1", 193).attr("x2", 193).attr("y1", 16).attr("y2", 102)
  .attr("stroke", "#555").attr("stroke-width", 1.5);
[["#e8336c", 215], ["#2a9fe6", 230], ["#e8336c", 244]].forEach(c =>
  svg.append("circle").attr("cx", c[1]).attr("cy", 21).attr("r", 4.6).attr("fill", c[0]));
["Atmosphere", "Thematic", "Centre"].forEach((t, i) =>
  svg.append("text").attr("x", 211).attr("y", 47 + i * 19).attr("font-size", 16.5)
    .attr("font-weight", "bold").attr("fill", "#555").text(t));

[["#4a86c2", "Invalid data", 1658], ["#111", "No data generated", 1695]].forEach(r => {
  svg.append("line").attr("x1", 183).attr("x2", 183).attr("y1", r[2] - 18).attr("y2", r[2] - 1)
    .attr("stroke", r[0]).attr("stroke-width", 2);
  svg.append("text").attr("x", 232).attr("y", r[2]).attr("font-size", 26.5).attr("fill", "#000").text(r[1]);
});
</script>
</body></html>
